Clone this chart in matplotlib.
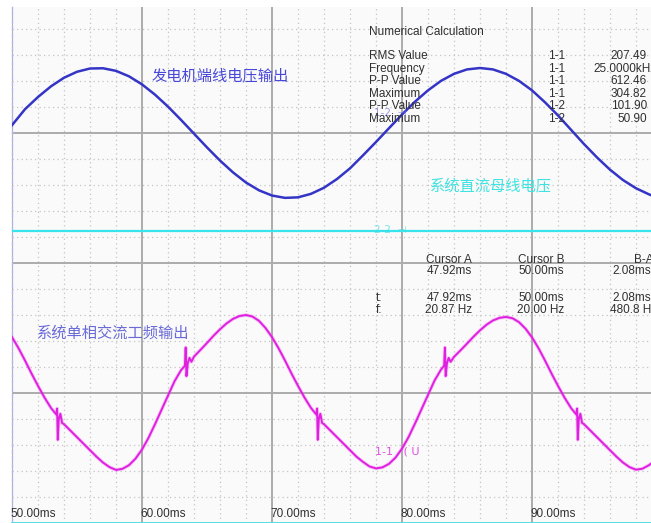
import matplotlib
matplotlib.use('Agg')
import matplotlib.pyplot as plt
from matplotlib.ticker import MultipleLocator

# ---- data (time in ms, amplitude in screen divisions) ----
blue_t = [50, 51, 52, 53, 54, 55, 56, 57, 58, 59, 60, 61, 62, 63, 64, 65, 66, 67,
          68, 69, 70, 71, 72, 73, 74, 75, 76, 77, 78, 79, 80, 81, 82, 83, 84, 85,
          86, 87, 88, 89, 90, 91, 92, 93, 94, 95, 96, 97, 98, 99, 99.2]
blue_v = [1.060, 1.183, 1.277, 1.359, 1.425, 1.471, 1.496, 1.498, 1.478, 1.436,
          1.374, 1.295, 1.203, 1.101, 0.995, 0.889, 0.788, 0.697, 0.619, 0.559,
          0.519, 0.501, 0.505, 0.532, 0.579, 0.646, 0.728, 0.828, 0.931, 1.037,
          1.142, 1.241, 1.328, 1.401, 1.455, 1.489, 1.500, 1.489, 1.455, 1.401,
          1.328, 1.236, 1.135, 1.025, 0.915, 0.812, 0.718, 0.638, 0.575, 0.528, 0.520]

cyan_t = [50.0, 60.0, 70.0, 80.0, 90.0, 99.2]
cyan_v = [0.246, 0.246, 0.246, 0.246, 0.246, 0.246]

mag_t = [50.0, 50.5, 51.0, 51.5, 52.0, 52.5, 53.0, 53.4, 53.47, 53.52, 53.60, 53.72, 53.85,
         54.0, 54.5, 55.0, 55.5, 56.0, 56.5, 57.0, 57.5,
         58.0, 58.5, 59.0, 59.5, 60.0, 60.5, 61.0, 61.5, 62.0, 62.5, 63.0, 63.3,
         63.36, 63.42, 63.52, 63.65, 63.8,
         64.0, 64.5, 65.0, 65.5, 66.0, 66.5, 67.0, 67.5,
         68.0, 68.5, 69.0, 69.5, 70.0, 70.5, 71.0, 71.5, 72.0, 72.5, 73.0, 73.4,
         73.47, 73.52, 73.60, 73.72, 73.85,
         74.0, 74.5, 75.0, 75.5, 76.0, 76.5, 77.0, 77.5,
         78.0, 78.5, 79.0, 79.5, 80.0, 80.5, 81.0, 81.5, 82.0, 82.5, 83.0, 83.24,
         83.30, 83.36, 83.46, 83.59, 83.74,
         84.0, 84.5, 85.0, 85.5, 86.0, 86.5, 87.0, 87.5,
         88.0, 88.5, 89.0, 89.5, 90.0, 90.5, 91.0, 91.5, 92.0, 92.5, 93.0, 93.4,
         93.47, 93.52, 93.60, 93.72, 93.85,
         94.0, 94.5, 95.0, 95.5, 96.0, 96.5, 97.0, 97.5,
         98.0, 98.5, 99.0, 99.2]
mag_v = [-0.570, -0.655, -0.750, -0.850, -0.945, -1.035, -1.115, -1.165,
         -1.12, -1.36, -1.20, -1.16, -1.23,
         -1.240, -1.290, -1.340, -1.390, -1.440, -1.490, -1.535, -1.570,
         -1.592, -1.583, -1.555, -1.505, -1.435, -1.345, -1.240, -1.130, -1.020,
         -0.910, -0.825, -0.790,
         -0.65, -0.87, -0.77, -0.73, -0.76,
         -0.720, -0.668, -0.615, -0.560, -0.510, -0.465, -0.430, -0.408,
         -0.400, -0.412, -0.445, -0.500, -0.570, -0.655, -0.750, -0.850, -0.945,
         -1.035, -1.115, -1.165,
         -1.12, -1.36, -1.20, -1.16, -1.23,
         -1.240, -1.290, -1.340, -1.390, -1.440, -1.490, -1.530, -1.565,
         -1.580, -1.572, -1.545, -1.497, -1.428, -1.340, -1.235, -1.125, -1.015,
         -0.905, -0.820, -0.790,
         -0.65, -0.87, -0.77, -0.73, -0.76,
         -0.722, -0.672, -0.620, -0.567, -0.518, -0.475, -0.442, -0.422,
         -0.415, -0.425, -0.455, -0.505, -0.572, -0.655, -0.750, -0.850, -0.945,
         -1.035, -1.115, -1.165,
         -1.12, -1.36, -1.20, -1.16, -1.23,
         -1.240, -1.290, -1.340, -1.390, -1.440, -1.490, -1.535, -1.570,
         -1.590, -1.582, -1.555, -1.540]

x_ticks = [50, 60, 70, 80, 90]
x_tick_labels = ['50.00ms', '60.00ms', '70.00ms', '80.00ms', '90.00ms']

calc_names = ['RMS Value', 'Frequency', 'P-P Value', 'Maximum', 'P-P Value', 'Maximum']
calc_chans = ['1-1', '1-1', '1-1', '1-1', '1-2', '1-2']
calc_vals = ['207.49', '25.0000kHz', '612.46', '304.82', '101.90', '50.90']

cursor_heads = ['Cursor A', 'Cursor B', 'B-A']
cursor_pos = ['47.92ms', '50.00ms', '2.08ms']
cursor_t = ['47.92ms', '50.00ms', '2.08ms']
cursor_f = ['20.87 Hz', '20.00 Hz', '480.8 Hz']

# ---- figure ----
W, H = 651, 523
fig = plt.figure(figsize=(W / 100, H / 100), dpi=100)
fig.patch.set_facecolor('white')
ax = fig.add_axes([12 / W, 0, 1 - 12 / W, (H - 7) / H])
ax.set_facecolor('#fafafa')
ax.set_xlim(50, 50 + (W - 12) / 13)
ax.set_ylim(-2.0, (263 - 7) / 130)

ax.xaxis.set_major_locator(MultipleLocator(10))
ax.xaxis.set_minor_locator(MultipleLocator(2))
ax.yaxis.set_major_locator(MultipleLocator(1))
ax.yaxis.set_minor_locator(MultipleLocator(0.2))
ax.grid(which='major', color='#ababab', lw=1.4)
ax.grid(which='minor', color='#c4c4c4', lw=0.9, linestyle=(0, (1, 2.6)))
ax.tick_params(which='both', length=0, labelbottom=False, labelleft=False)
ax.set_axisbelow(True)
for s in ['top', 'right']:
    ax.spines[s].set_visible(False)
ax.spines['left'].set_color('#b4b4e6')
ax.spines['left'].set_linestyle((0, (3, 2)))
ax.spines['left'].set_linewidth(1.0)
ax.spines['bottom'].set_color('#52e2ea')
ax.spines['bottom'].set_linewidth(2.0)

# traces
ax.plot(cyan_t, cyan_v, color='#38e4ec', lw=1.6, zorder=3)
ax.plot(blue_t, blue_v, color='#3434c6', lw=1.8, zorder=4)
ax.plot(mag_t, mag_v, color='#f060f0', lw=2.6, alpha=0.35, zorder=4)
ax.plot(mag_t, mag_v, color='#e020e0', lw=1.4, zorder=5)

# time labels along the bottom
for t, lab in zip(x_ticks, x_tick_labels):
    ax.text(t - 0.15, -1.93, lab, fontsize=8.5, color='#303030',
            family='Liberation Sans', ha='left', va='center')


def px(x, y):
    return x / W, 1 - y / H


cjk = ['Noto Sans CJK SC', 'DejaVu Sans']
fig.text(*px(152, 76), '发电机端线电压输出', fontsize=11, color='#4848d8',
         family=cjk, va='center')
fig.text(*px(430, 186), '系统直流母线电压', fontsize=11, color='#40e2e2',
         family=cjk, va='center')
fig.text(*px(37, 333), '系统单相交流工频输出', fontsize=11, color='#6a6ad8',
         family=cjk, va='center')

# channel markers
fig.text(*px(374, 113), '1-2  ⊣', fontsize=7.5, color='#7070e0', alpha=0.7,
         family='DejaVu Sans', va='center')
fig.text(*px(374, 230), '2-2  ⊣', fontsize=7.5, color='#40d8e0', alpha=0.7,
         family='DejaVu Sans', va='center')
fig.text(*px(375, 452), '1-1   ( U', fontsize=8, color='#e050e0',
         family='DejaVu Sans', va='center')

# numerical calculation panel
txt = dict(fontsize=8.5, color='#303030', family='Liberation Sans', va='center')
fig.text(*px(369, 32), 'Numerical Calculation', **txt)
for i, (n, c, v) in enumerate(zip(calc_names, calc_chans, calc_vals)):
    y = 56 + i * 12.6
    fig.text(*px(369, y), n, **txt)
    fig.text(*px(557, y), c, ha='center', **txt)
    if v.endswith('Hz'):
        fig.text(*px(593, y), v, ha='left', **txt)
    else:
        fig.text(*px(647, y), v, ha='right', **txt)

# cursor panel
col_x = [472, 564, 654]
for x, h, p, tv, fv in zip(col_x, cursor_heads, cursor_pos, cursor_t, cursor_f):
    shift = 3 if h == 'B-A' else 0
    fig.text(*px(x, 260), h, ha='right', **txt)
    fig.text(*px(x - shift, 271), p, ha='right', **txt)
    fig.text(*px(x - shift, 298), tv, ha='right', **txt)
    fig.text(*px(x + shift, 310), fv, ha='right', **txt)
fig.text(*px(376, 298), 't:', **txt)
fig.text(*px(376, 310), 'f:', **txt)

fig.savefig('out.png', dpi=100, facecolor='white')
